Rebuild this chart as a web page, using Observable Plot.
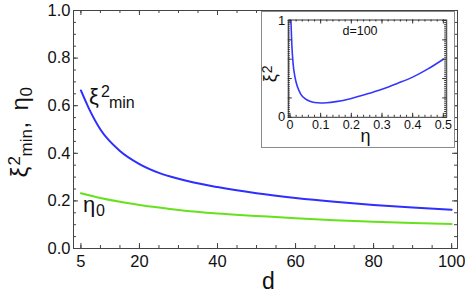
<!DOCTYPE html>
<html><head><meta charset="utf-8">
<script src="https://cdn.jsdelivr.net/npm/d3@7"></script>
<script src="https://cdn.jsdelivr.net/npm/@observablehq/plot@0.6"></script>
<style>
body{margin:0;background:#fff;}
#wrap{position:relative;width:465px;height:297px;}
#inset{position:absolute;left:261px;top:11px;width:194px;height:137px;border:1.5px solid #8a8a8a;background:#fff;box-sizing:border-box;}
#inset svg, #main svg{display:block;}
</style></head><body>
<div id="wrap"><div id="main"></div><div id="inset"></div></div>
<script>
// ---- data ----
const dBlue = [5, 7, 10, 15, 20, 25, 30, 40, 50, 60, 70, 80, 90, 100];
const xiMin = [0.664, 0.59, 0.50, 0.41, 0.355, 0.318, 0.293, 0.258, 0.232, 0.212, 0.196, 0.183, 0.172, 0.163];
const dGreen = [5, 10, 15, 20, 25, 30, 40, 50, 60, 70, 80, 90, 100];
const eta0 = [0.232, 0.212, 0.196, 0.183, 0.172, 0.162, 0.147, 0.137, 0.127, 0.119, 0.112, 0.107, 0.103];
const xTicks = [5, 20, 40, 60, 80, 100];
const yTicks = [0, 0.2, 0.4, 0.6, 0.8, 1.0];
const xMinorTicks = [5,10,15,20,25,30,35,40,45,50,55,60,65,70,75,80,85,90,95,100];
const yMinorTicks = [0,0.05,0.1,0.15,0.2,0.25,0.3,0.35,0.4,0.45,0.5,0.55,0.6,0.65,0.7,0.75,0.8,0.85,0.9,0.95,1.0];
// inset: xi^2 vs eta at d=100
const insetEta = [0.003, 0.006, 0.01, 0.016, 0.025, 0.035, 0.05, 0.065, 0.08, 0.1, 0.12, 0.15, 0.2, 0.25, 0.3, 0.35, 0.4, 0.45, 0.5];
const insetXi  = [1.0, 0.75, 0.56, 0.42, 0.31, 0.24, 0.19, 0.165, 0.152, 0.147, 0.15, 0.162, 0.195, 0.24, 0.29, 0.35, 0.415, 0.5, 0.6];
const insetXTicks = [0, 0.1, 0.2, 0.3, 0.4, 0.5];
const insetYTicks = [0, 1];
const insetXMinor = d3.range(0, 0.511, 0.02);
const insetYMinor = d3.range(0, 1.001, 0.02);
const insetXMajor = [0, 0.1, 0.2, 0.3, 0.4, 0.5];
const insetYMajor = [0, 0.2, 0.4, 0.6, 0.8, 1.0];

const blue = dBlue.map((d, i) => ({d, v: xiMin[i]}));
const green = dGreen.map((d, i) => ({d, v: eta0[i]}));
const inset = insetEta.map((e, i) => ({e, v: insetXi[i]}));

const FONT = "'Liberation Sans', Arial, Helvetica, sans-serif";
const W = 465, H = 297, mL = 73, mR = 8, mT = 10, mB = 49;
const pw = W - mL - mR, ph = H - mT - mB;
const frameC = "#444";

function piece(t, opts) {
  return Plot.text([t], {text: d => d, textAnchor: "start", lineAnchor: "bottom", fill: "#111", ...opts});
}

const main = Plot.plot({
  width: W, height: H, marginLeft: mL, marginRight: mR, marginTop: mT, marginBottom: mB,
  x: {domain: [3.1, 101.5]},
  y: {domain: [0, 1]},
  style: {fontFamily: FONT, background: "#fff", color: "#111", overflow: "visible"},
  marks: [
    Plot.line(blue, {x: "d", y: "v", stroke: "#2e2eff", strokeWidth: 2, curve: "monotone-x"}),
    Plot.line(green, {x: "d", y: "v", stroke: "#66e21c", strokeWidth: 2, curve: "monotone-x"}),
    Plot.frame({stroke: frameC}),
    Plot.tickX(xMinorTicks, {x: d => d, insetTop: ph - 3, stroke: frameC}),
    Plot.tickX(xTicks, {x: d => d, insetTop: ph - 5, stroke: frameC}),
    Plot.tickX(xMinorTicks, {x: d => d, insetBottom: ph - 3, stroke: frameC}),
    Plot.tickX(xTicks, {x: d => d, insetBottom: ph - 5, stroke: frameC}),
    Plot.tickY(yMinorTicks, {y: d => d, insetRight: pw - 3, stroke: frameC}),
    Plot.tickY(yTicks, {y: d => d, insetRight: pw - 5, stroke: frameC}),
    Plot.tickY(yMinorTicks, {y: d => d, insetLeft: pw - 3, stroke: frameC}),
    Plot.tickY(yTicks, {y: d => d, insetLeft: pw - 5, stroke: frameC}),
    Plot.axisX({ticks: xTicks, tickSize: 0, tickPadding: 7, fontSize: 16.5, label: null}),
    Plot.axisY({ticks: yTicks, tickSize: 0, tickPadding: 3, fontSize: 16.5, tickFormat: d3.format(".1f"), label: null}),
    // x label
    piece("d", {frameAnchor: "bottom", textAnchor: "middle", dx: 3, dy: 40, fontSize: 23}),
    // y label pieces (rotated): frame left-middle is (73, 129)
    piece("ξ", {frameAnchor: "left", rotate: -90, dx: -46, dy: 48, fontSize: 24}),
    piece("2", {frameAnchor: "left", rotate: -90, dx: -54, dy: 36, fontSize: 17}),
    piece("min", {frameAnchor: "left", rotate: -90, dx: -42, dy: 27, fontSize: 17}),
    piece(",", {frameAnchor: "left", rotate: -90, dx: -46, dy: -1, fontSize: 24}),
    piece("η", {frameAnchor: "left", rotate: -90, dx: -46, dy: -19, fontSize: 24}),
    piece("0", {frameAnchor: "left", rotate: -90, dx: -42, dy: -33, fontSize: 17}),
    // curve annotations
    Plot.text([blue[0]], {x: "d", y: "v", text: () => "ξ", dx: 8, dy: 14, textAnchor: "start", lineAnchor: "bottom", fontSize: 22, fill: "#111"}),
    Plot.text([blue[0]], {x: "d", y: "v", text: () => "2", dx: 20, dy: 7, textAnchor: "start", lineAnchor: "bottom", fontSize: 16, fill: "#111"}),
    Plot.text([blue[0]], {x: "d", y: "v", text: () => "min", dx: 28, dy: 18, textAnchor: "start", lineAnchor: "bottom", fontSize: 16, fill: "#111"}),
    Plot.text([green[0]], {x: "d", y: "v", text: () => "η", dx: 2, dy: 19, textAnchor: "start", lineAnchor: "bottom", fontSize: 22, fill: "#111"}),
    Plot.text([green[0]], {x: "d", y: "v", text: () => "0", dx: 15, dy: 23, textAnchor: "start", lineAnchor: "bottom", fontSize: 16, fill: "#111"})
  ]
});
document.getElementById("main").appendChild(main);

// inset (inner box origin at page (262.5, 12.5))
const iW = 191, iH = 134, iL = 25.8, iR = 6.8, iT = 7.5, iB = 29.2;
const ipw = iW - iL - iR, iph = iH - iT - iB;
const insetPlot = Plot.plot({
  width: iW, height: iH, marginLeft: iL, marginRight: iR, marginTop: iT, marginBottom: iB,
  x: {domain: [-0.0055, 0.511]},
  y: {domain: [0, 1.005]},
  style: {fontFamily: FONT, background: "#fff", color: "#111", overflow: "visible"},
  marks: [
    Plot.line(inset, {x: "e", y: "v", stroke: "#3535ff", strokeWidth: 1.6, curve: "monotone-x", clip: true}),
    Plot.frame({stroke: "#333"}),
    Plot.tickX(insetXMinor, {x: d => d, insetTop: iph - 2, stroke: "#333"}),
    Plot.tickX(insetXMajor, {x: d => d, insetTop: iph - 4, stroke: "#333"}),
    Plot.tickX(insetXMinor, {x: d => d, insetBottom: iph - 2, stroke: "#333"}),
    Plot.tickX(insetXMajor, {x: d => d, insetBottom: iph - 4, stroke: "#333"}),
    Plot.tickY(insetYMinor, {y: d => d, insetRight: ipw - 2, stroke: "#333"}),
    Plot.tickY(insetYMajor, {y: d => d, insetRight: ipw - 4, stroke: "#333"}),
    Plot.tickY(insetYMinor, {y: d => d, insetLeft: ipw - 2, stroke: "#333"}),
    Plot.tickY(insetYMajor, {y: d => d, insetLeft: ipw - 4, stroke: "#333"}),
    Plot.axisX({ticks: insetXTicks, tickSize: 0, tickPadding: 3, fontSize: 12.5, tickFormat: d => d === 0 ? "0" : d3.format(".1f")(d), label: null}),
    Plot.axisY({ticks: insetYTicks, tickSize: 0, tickPadding: 3, fontSize: 13, tickFormat: d => String(d), label: null}),
    piece("d=100", {frameAnchor: "top", textAnchor: "middle", dx: -7.5, dy: 15, fontSize: 12.5}),
    piece("η", {frameAnchor: "bottom", textAnchor: "middle", dx: -2, dy: 24.5, fontSize: 18}),
    piece("ξ", {frameAnchor: "left", rotate: -90, dx: -12.8, dy: 13.7, fontSize: 18}),
    piece("2", {frameAnchor: "left", rotate: -90, dx: -16.5, dy: 4.5, fontSize: 14})
  ]
});
document.getElementById("inset").appendChild(insetPlot);
</script>
</body></html>
